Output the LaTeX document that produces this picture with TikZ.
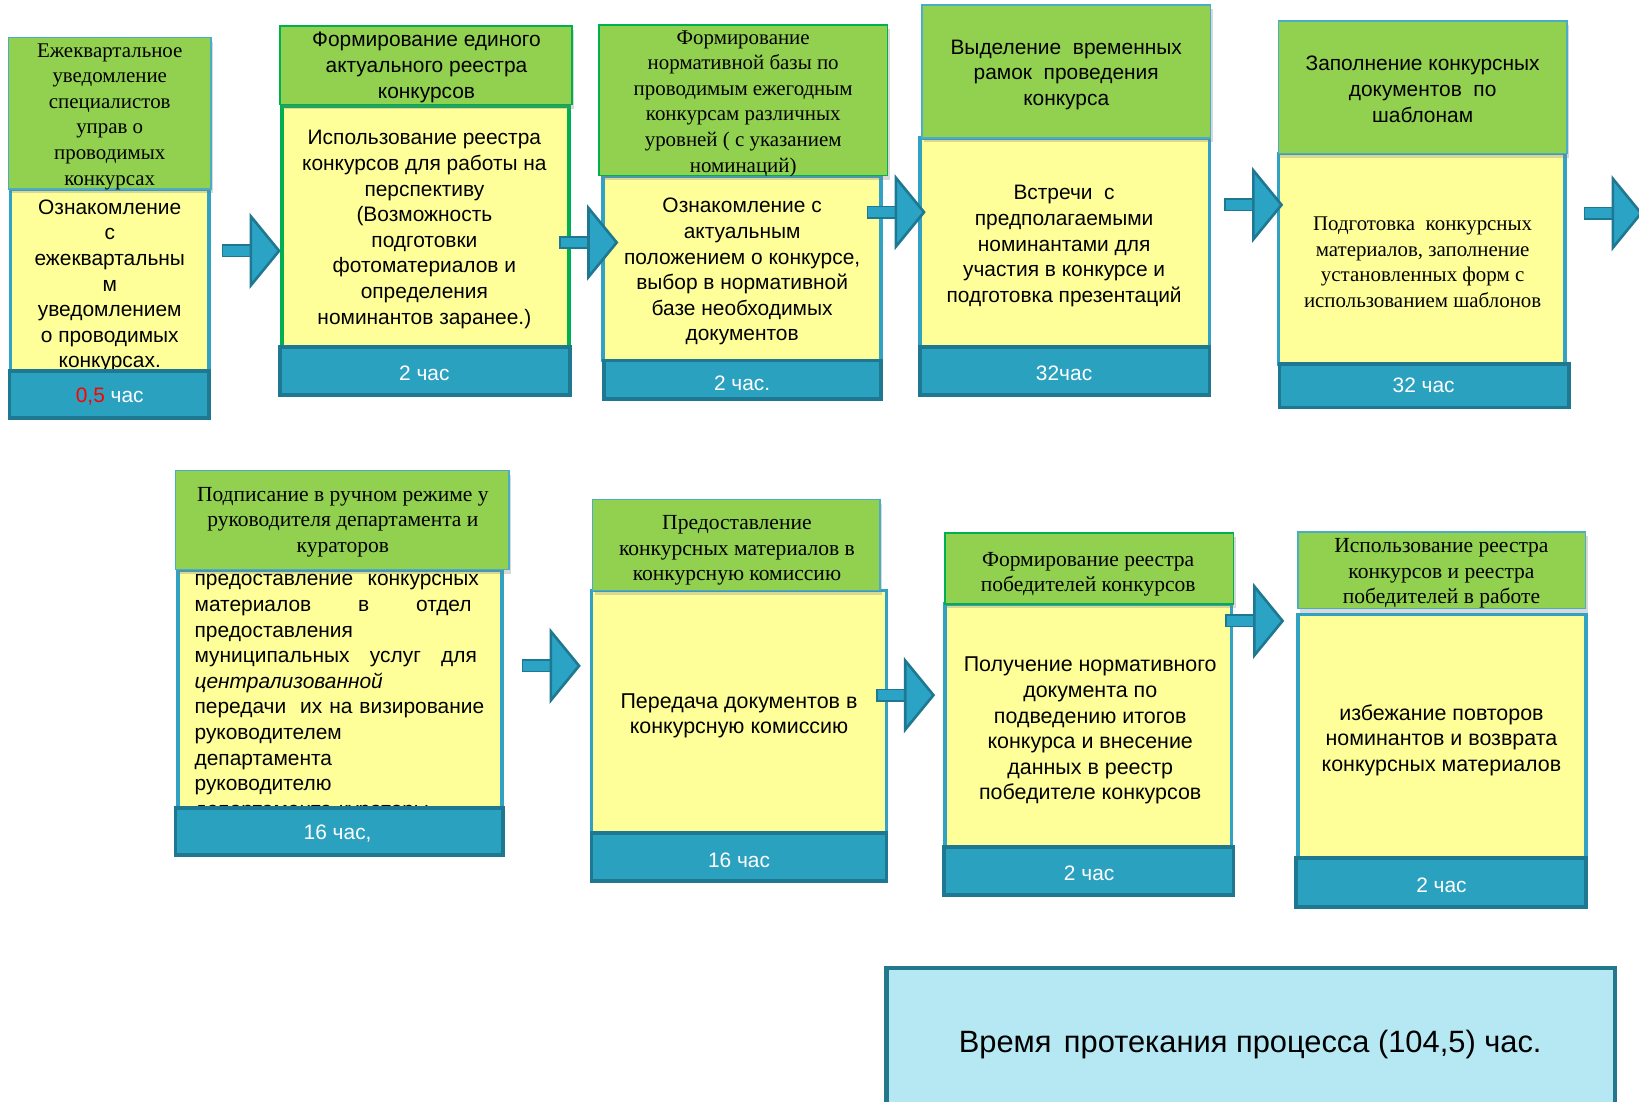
\documentclass[tikz,border=0pt]{standalone}
\usepackage{fontspec}
\setmainfont{Liberation Serif}
\setsansfont{Liberation Sans}
\usetikzlibrary{fit,shadows}
\definecolor{hgreen}{HTML}{92D050}
\definecolor{yel}{HTML}{FFFF99}
\definecolor{bteal}{HTML}{31A2C4}
\definecolor{hteal}{HTML}{4BACC6}
\definecolor{gborder}{HTML}{00B050}
\definecolor{fblue}{HTML}{2BA1C0}
\definecolor{fdark}{HTML}{1F7892}
\definecolor{arrfill}{HTML}{2BA3C4}
\definecolor{arrdark}{HTML}{1F7892}
\definecolor{sumfill}{HTML}{B5E8F3}
\definecolor{sumdark}{HTML}{23788C}
\newcommand{\blockarrow}[2]{%
  \filldraw[fill=arrfill,draw=arrdark,line width=1.5pt] (#1,#2-5.5) rectangle (#1+28,#2+5.5);
  \filldraw[fill=arrfill,draw=arrdark,line width=2.5pt,line join=miter] (#1+27,#2-33) -- (#1+54,#2) -- (#1+27,#2+33) -- cycle;}
\begin{document}
\begin{tikzpicture}[x=1pt,y=-1pt,
  box/.style={rectangle,inner sep=0pt,outer sep=0pt},
  hdr/.style={box,fill=hgreen,draw=hteal,line width=1.5pt,drop shadow={opacity=0.3,shadow xshift=2pt,shadow yshift=-4pt}},
  hdrg/.style={hdr,draw=gborder},
  body/.style={box,fill=yel,draw=bteal,line width=3.5pt},
  bodyg/.style={body,draw=gborder},
  foot/.style={box,fill=fblue,draw=fdark,line width=3.5pt},
  ftxt/.style={font=\sffamily\fontsize{20}{24}\selectfont,text=white},
  sans/.style={font=\sffamily\fontsize{20}{24.5}\selectfont,align=center},
  serif/.style={font=\rmfamily\fontsize{20}{24.5}\selectfont,align=center},
  bsans/.style={font=\sffamily\fontsize{20.5}{24.5}\selectfont,align=center},
  bserif/.style={font=\rmfamily\fontsize{20.6}{24.5}\selectfont,align=center}]
\useasboundingbox (0,0) rectangle (1568,1054);
% ---------- box 1
\node[body,fit={(10,181)(200,355)}] (b1) {};
\node[sans] (b1t) at (105,273.5) {Ознакомление\\с\\ежеквартальны\\м\\уведомлением\\о проводимых\\конкурсах.};
\node[foot,fit={(9,355)(200,400)}] (f1) {};
\node[ftxt] (f1t) at (105,379) {{\color{red}0,5} час};
\node[hdr,fit={(8,36)(202,181)}] (h1) {};
\node[serif] (h1t) at (105,111.5) {Ежеквартальное\\уведомление\\специалистов\\управ о\\проводимых\\конкурсах};
% ---------- box 2
\node[bodyg,line width=4pt,fit={(270,101)(544,332)}] (b2) {};
\node[sans] (b2t) at (406,219.5) {Использование реестра\\конкурсов для работы на\\перспективу\\(Возможность\\подготовки\\фотоматериалов и\\определения\\номинантов заранее.)};
\node[foot,fit={(268,332)(545,378)}] (f2) {};
\node[ftxt] (f2t) at (406,357) {2 час};
\node[hdrg,fit={(268,25)(547,100)}] (h2) {};
\node[sans] (h2t) at (408,64.5) {Формирование единого\\актуального реестра\\конкурсов};
% ---------- box 3
\node[body,fit={(577,169)(843,345)}] (b3) {};
\node[sans] (b3t) at (710,260) {Ознакомление с\\актуальным\\положением о конкурсе,\\выбор в нормативной\\базе необходимых\\документов};
\node[foot,fit={(578,345)(843,382)}] (f3) {};
\node[ftxt] (f3t) at (710,367) {2 час.};
\node[hdrg,fit={(573,24)(849,168)}] (h3) {};
\node[serif] (h3t) at (711,99) {Формирование\\нормативной базы по\\проводимым ежегодным\\конкурсам различных\\уровней ( с указанием\\номинаций)};
% ---------- box 4
\node[body,fit={(880,132)(1157,332)}] (b4) {};
\node[sans] (b4t) at (1018,235.5) {Встречи\ \ с\\предполагаемыми\\номинантами для\\участия в конкурсе и\\подготовка презентаций};
\node[foot,fit={(880,332)(1157,378)}] (f4) {};
\node[ftxt] (f4t) at (1018,357) {32час};
\node[hdr,fit={(882,5)(1158,132)}] (h4) {};
\node[sans] (h4t) at (1020,71.5) {Выделение\ \ временных\\рамок\ \ проведения\\конкурса};
% ---------- box 5
\node[body,fit={(1223,147)(1497,348)}] (b5) {};
\node[serif] (b5t) at (1361,251) {Подготовка\ \ конкурсных\\материалов, заполнение\\установленных форм с\\использованием шаблонов};
\node[foot,fit={(1224,348)(1501,390)}] (f5) {};
\node[ftxt] (f5t) at (1362,369) {32 час};
\node[hdr,fit={(1223,20)(1499,147)}] (h5) {};
\node[sans] (h5t) at (1361,85.5) {Заполнение конкурсных\\документов\ \ по\\шаблонам};
% ---------- box 6
\node[body,fit={(170,545)(480,773)}] (b6) {};
\node[font=\sffamily\fontsize{20}{24.5}\selectfont,align=left,text width=285pt,inner sep=0pt,anchor=west] (b6t) at (186,667.5) {%
\makebox[272pt][s]{предоставление\hfill конкурсных}\\
\makebox[265pt][s]{материалов\hfill в\hfill отдел}\\
предоставления\\
\makebox[270pt][s]{муниципальных\hfill услуг\hfill для}\\
\textit{централизованной}\\
передачи\ \ их на визирование\\
руководителем\\
департамента\\
руководителю\\
департамента кураторы};
\node[foot,fit={(168,773)(481,818)}] (f6) {};
\node[ftxt] (f6t) at (323,797) {16 час,};
\node[hdr,fit={(168,450)(487,545)}] (h6) {};
\node[bserif] (h6t) at (328,499.5) {Подписание в ручном режиме у\\руководителя департамента и\\кураторов};
% ---------- box 7
\node[body,fit={(566,565)(848,797)}] (b7) {};
\node[bsans] (b7t) at (707,685) {Передача документов в\\конкурсную комиссию};
\node[foot,fit={(566,797)(848,843)}] (f7) {};
\node[ftxt] (f7t) at (707,823) {16 час};
\node[hdr,fit={(567,478)(842,565)}] (h7) {};
\node[bserif] (h7t) at (705,526.5) {Предоставление\\конкурсных материалов в\\конкурсную комиссию};
% ---------- box 8
\node[body,fit={(904,578)(1178,810)}] (b8) {};
\node[bsans] (b8t) at (1043,699) {Получение нормативного\\документа по\\подведению итогов\\конкурса и внесение\\данных в реестр\\победителе конкурсов};
\node[foot,fit={(903,810)(1180,856)}] (f8) {};
\node[ftxt] (f8t) at (1042,835) {2 час};
\node[hdrg,fit={(904,510)(1180,578)}] (h8) {};
\node[bserif] (h8t) at (1041,549.5) {Формирование реестра\\победителей конкурсов};
% ---------- box 9
\node[body,fit={(1242,588)(1517,821)}] (b9) {};
\node[bsans] (b9t) at (1379,708) {избежание повторов\\номинантов и возврата\\конкурсных материалов};
\node[foot,fit={(1240,821)(1517,868)}] (f9) {};
\node[ftxt] (f9t) at (1379,847) {2 час};
\node[hdr,fit={(1242,509)(1517,582)}] (h9) {};
\node[bserif] (h9t) at (1379,548.5) {Использование реестра\\конкурсов и реестра\\победителей в работе};
% ---------- arrows
\blockarrow{213}{240}
\blockarrow{536}{232}
\blockarrow{830}{203}
\blockarrow{1172}{196}
\blockarrow{1516}{204}
\blockarrow{500}{637}
\blockarrow{839}{665}
\blockarrow{1173}{594}
% ---------- summary
\node[box,fill=sumfill,draw=sumdark,line width=4pt,fit={(848,926)(1545,1070)}] (sum) {};
\node[font=\sffamily\fontsize{29.5}{34}\selectfont] (sumt) at (1196,999) {Время\hspace{0.4em}протекания процесса (104,5) час.};
\end{tikzpicture}
\end{document}
